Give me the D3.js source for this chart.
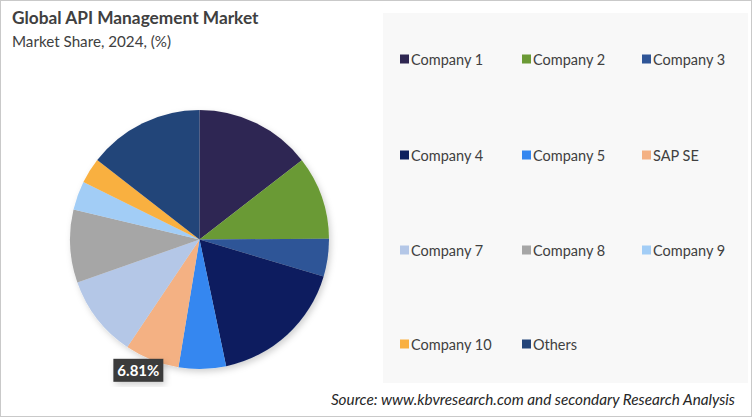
<!DOCTYPE html>
<html><head><meta charset="utf-8">
<script src="https://cdn.jsdelivr.net/npm/d3@7"></script>
<style>
html,body{margin:0;padding:0;background:#fff;}
svg{display:block;}
</style></head>
<body>
<svg id="chart" width="752" height="417"></svg>
<script>
const categories = ["Company 1","Company 2","Company 3","Company 4","Company 5","SAP SE","Company 7","Company 8","Company 9","Company 10","Others"];
const shares = [14.5,10.4,4.7,17.1,5.9,6.81,10.2,9.1,3.6,3.2,14.49];
const colors = ["#2f2752","#6b9a35","#2f5597","#0c1f5e","#3487f0","#f4b183","#b4c7e7","#a6a6a6","#a2cdf6","#f9b041","#234479"];
const labelled = ["SAP SE"];

const svg = d3.select("#chart");
const W = 752, H = 417;
const font = "Lato, 'Open Sans', sans-serif";

// outer border
svg.append("rect").attr("x",0.5).attr("y",0.5).attr("width",W-1).attr("height",H-1)
  .attr("fill","#fff").attr("stroke","#c9c9c9");
// legend panel
svg.append("rect").attr("x",383).attr("y",13).attr("width",365).attr("height",370).attr("fill","#f8f8f8");

// title
svg.append("text").attr("x",12).attr("y",24).attr("font-family",font).attr("font-weight","bold")
  .attr("font-size",17.3).attr("fill","#404040").text("Global API Management Market");
svg.append("text").attr("x",12).attr("y",47).attr("font-family",font)
  .attr("font-size",15.2).attr("fill","#404040").text("Market Share, 2024, (%)");

// shadow filter
const defs = svg.append("defs");
const f = defs.append("filter").attr("id","sh").attr("x","-20%").attr("y","-20%").attr("width","140%").attr("height","140%");
f.append("feDropShadow").attr("dx",2).attr("dy",3).attr("stdDeviation",3).attr("flood-color","#000").attr("flood-opacity",0.18);

const data = categories.map((c,i)=>({name:c, value:shares[i], color:colors[i]}));
const pie = d3.pie().value(d=>d.value).sort(null);
const R = 129.5;
const arc = d3.arc().innerRadius(0).outerRadius(R);
const g = svg.append("g").attr("transform","translate(199.5,239.5)");
const gp = g.append("g").attr("filter","url(#sh)");
const arcs = pie(data);
gp.selectAll("path").data(arcs).enter().append("path")
  .attr("d",arc).attr("fill",d=>d.data.color);

// label
arcs.filter(d=>labelled.includes(d.data.name)).forEach(d=>{
  const mid = (d.startAngle+d.endAngle)/2 + 0.06;
  const lr = R*1.115;
  const x = Math.sin(mid)*lr, y = -Math.cos(mid)*lr;
  const lg = g.append("g").attr("transform",`translate(${x},${y})`);
  const t = lg.append("text").attr("text-anchor","middle").attr("dominant-baseline","central")
    .attr("font-family",font).attr("font-weight","bold").attr("font-size",15)
    .attr("fill","#fff").text(d.data.value.toFixed(2)+"%");
  const bb = t.node().getBBox();
  lg.insert("rect","text").attr("x",bb.x-4).attr("y",-11.5).attr("width",bb.width+8).attr("height",23)
    .attr("fill","#3b3b3b").attr("filter","url(#sh)");
});

// legend
const colX = [400,522,642];
const rowY = [59,155,250,344];
const leg = svg.append("g");
data.forEach((d,i)=>{
  const x = colX[i%3], y = rowY[Math.floor(i/3)];
  leg.append("rect").attr("x",x).attr("y",y-4.5).attr("width",9).attr("height",9).attr("fill",d.color);
  leg.append("text").attr("x",x+11).attr("y",y).attr("dominant-baseline","central")
    .attr("font-family",font).attr("font-size",14.5).attr("fill","#404040").text(d.name);
});

// source
svg.append("text").attr("x",735).attr("y",405).attr("text-anchor","end").attr("font-family",font)
  .attr("font-style","italic").attr("font-size",15.3).attr("fill","#262626")
  .text("Source: www.kbvresearch.com and secondary Research Analysis");
</script>
</body></html>
